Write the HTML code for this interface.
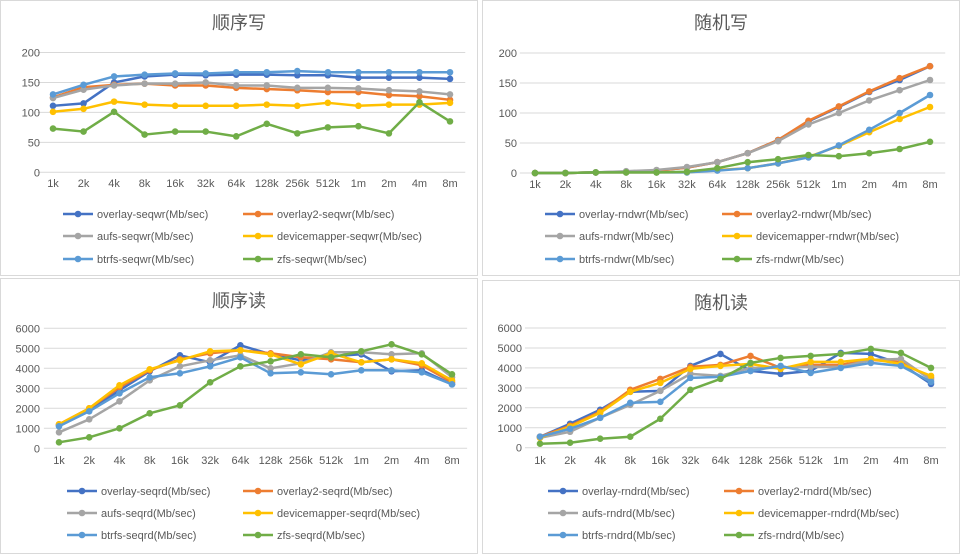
<!DOCTYPE html>
<html><head><meta charset="utf-8"><style>
body{margin:0;background:#fff;width:961px;height:554px;overflow:hidden;font-family:"Liberation Sans","Noto Sans CJK SC",sans-serif}
svg{display:block}
</style></head><body>
<svg id="root" width="961" height="554"></svg>
<script>
const categories=["1k","2k","4k","8k","16k","32k","64k","128k","256k","512k","1m","2m","4m","8m"];
const seriesNames=["overlay","overlay2","aufs","devicemapper","btrfs","zfs"];
const colors=["#4472C4","#ED7D31","#A5A5A5","#FFC000","#5B9BD5","#70AD47"];
const seqwrOverlay=[111,115,150,160,163,162,163,163,162,162,158,158,158,156];
const seqwrOverlay2=[125,142,146,148,145,145,141,139,137,134,134,129,127,121];
const seqwrAufs=[124,138,145,148,148,150,145,145,141,141,140,137,135,130];
const seqwrDm=[101,106,118,113,111,111,111,113,111,116,111,113,113,116];
const seqwrBtrfs=[130,146,160,163,165,165,167,167,169,167,167,167,167,167];
const seqwrZfs=[73,68,101,63,68,68,60,81,65,75,77,65,117,85];
const rndwrOverlay=[0,0,1,2,4,9,18,33,55,86,110,135,155,178];
const rndwrOverlay2=[0,0,1,2,4,9,18,33,55,87,111,136,158,178];
const rndwrAufs=[0,0,1,3,5,10,18,33,53,81,100,121,138,155];
const rndwrDm=[0,0,1,1,1,1,5,8,16,27,45,68,90,110];
const rndwrBtrfs=[0,0,1,1,1,1,4,8,16,26,46,72,100,130];
const rndwrZfs=[0,0,1,1,1,2,8,18,23,30,28,33,40,52];
const seqrdOverlay=[1150,1900,2900,3850,4650,4300,5150,4700,4400,4600,4700,3850,3900,3200];
const seqrdOverlay2=[1200,2000,3050,3900,4450,4750,4900,4750,4550,4450,4300,4450,4150,3300];
const seqrdAufs=[800,1450,2350,3400,4100,4400,4650,4000,4250,4800,4800,4700,4750,3550];
const seqrdDm=[1200,2000,3150,3950,4400,4850,4900,4700,4200,4750,4300,4450,4250,3400];
const seqrdBtrfs=[1100,1850,2750,3550,3750,4100,4550,3750,3800,3700,3900,3900,3800,3200];
const seqrdZfs=[300,550,1000,1750,2150,3300,4100,4350,4700,4550,4850,5200,4700,3700];
const rndrdOverlay=[550,1200,1900,2800,2850,4100,4700,3850,3700,3850,4750,4700,4200,3200];
const rndrdOverlay2=[550,1100,1800,2900,3450,4050,4150,4600,4000,4150,4150,4400,4300,3500];
const rndrdAufs=[500,800,1500,2150,2850,3700,3600,4000,4000,4050,4050,4400,4450,3400];
const rndrdDm=[500,1050,1750,2800,3250,3950,4100,4200,3950,4300,4300,4450,4200,3600];
const rndrdBtrfs=[550,950,1500,2250,2300,3500,3550,3850,4100,3750,4000,4250,4100,3300];
const rndrdZfs=[200,250,450,550,1450,2900,3450,4250,4500,4600,4700,4950,4750,4000];
const ticksW=[0,50,100,150,200];
const ticksR=[0,1000,2000,3000,4000,5000,6000];

const NS="http://www.w3.org/2000/svg";
const root=document.getElementById('root');
function mk(tag,attrs,parent,text){const e=document.createElementNS(NS,tag);for(const k in attrs)e.setAttribute(k,attrs[k]);if(text!==undefined)e.textContent=text;parent.appendChild(e);return e;}

const charts=[
 {key:"seqwr",title:"顺序写",box:[0,0,478,276],x0:53,x1:450,y0:172.3,y1:52.5,max:200,ticks:ticksW,data:[seqwrOverlay,seqwrOverlay2,seqwrAufs,seqwrDm,seqwrBtrfs,seqwrZfs],lx:[63,243],ly:[214,236,259],yl:40,xl:187},
 {key:"rndwr",title:"随机写",box:[482,0,478,276],x0:535,x1:930,y0:173,y1:53,max:200,ticks:ticksW,data:[rndwrOverlay,rndwrOverlay2,rndwrAufs,rndwrDm,rndwrBtrfs,rndwrZfs],lx:[545,722],ly:[214,236,259],yl:517,xl:188},
 {key:"seqrd",title:"顺序读",box:[0,278,478,276],x0:59,x1:452,y0:448.3,y1:328.3,max:6000,ticks:ticksR,data:[seqrdOverlay,seqrdOverlay2,seqrdAufs,seqrdDm,seqrdBtrfs,seqrdZfs],lx:[67,243],ly:[491,513,535],yl:40,xl:464},
 {key:"rndrd",title:"随机读",box:[482,280,478,274],x0:540,x1:931,y0:447.7,y1:328,max:6000,ticks:ticksR,data:[rndrdOverlay,rndrdOverlay2,rndrdAufs,rndrdDm,rndrdBtrfs,rndrdZfs],lx:[548,724],ly:[491,513,535],yl:522,xl:464}
];
charts.forEach(c=>{
 const g=mk('g',{},root);
 
 
 const [bx,by,bw,bh]=c.box;
 const fr=mk('rect',{x:bx+0.5,y:by+0.5,width:bw-1,height:bh-1,fill:'#fff',stroke:'#d9d9d9'},g);
 
 
 const t=mk('text',{x:bx+bw/2,y:by+29,'text-anchor':'middle','font-size':'18','fill':'#595959'},g,c.title);
 
 
 const step=(c.x1-c.x0)/(categories.length-1);
 const xs=i=>c.x0+i*step;
 const ys=v=>c.y0-(v/c.max)*(c.y0-c.y1);
 const plotL=c.x0-step/2, plotR=c.x1+step/2;
 c.ticks.forEach(tv=>{
  const y=ys(tv);
  const gl=mk('line',{x1:plotL,x2:plotR,y1:y,y2:y,stroke:'#d9d9d9','stroke-width':1},g);
  
  
  const tl=mk('text',{x:c.yl,y:y+4,'text-anchor':'end','font-size':'11',fill:'#595959'},g,String(tv));
  
  
 });
 categories.forEach((cat,i)=>{
  const xl=mk('text',{x:xs(i),y:c.xl,'text-anchor':'middle','font-size':'11',fill:'#595959'},g,cat);
  
  
 });
 c.data.forEach((arr,si)=>{
  const pts=arr.map((v,i)=>xs(i)+','+ys(v)).join(' ');
  const pl=mk('polyline',{points:pts,fill:'none',stroke:colors[si],'stroke-width':2.5,'stroke-linejoin':'round'},g);
  
  
  arr.forEach((v,i)=>{
   const cc=mk('circle',{cx:xs(i),cy:ys(v),r:3.3,fill:colors[si]},g);
   
   
  });
 });
 seriesNames.forEach((n,si)=>{
  const lx=c.lx[si%2], ly=c.ly[Math.floor(si/2)];
  const lg=mk('g',{},g);
  
  
  mk('line',{x1:lx,x2:lx+30,y1:ly,y2:ly,stroke:colors[si],'stroke-width':2.5},lg);
  mk('circle',{cx:lx+15,cy:ly,r:3.3,fill:colors[si]},lg);
  mk('text',{x:lx+34,y:ly+4,'font-size':'11',fill:'#595959'},lg,n+'-'+c.key+'(Mb/sec)');
 });
});
</script>
</body></html>
